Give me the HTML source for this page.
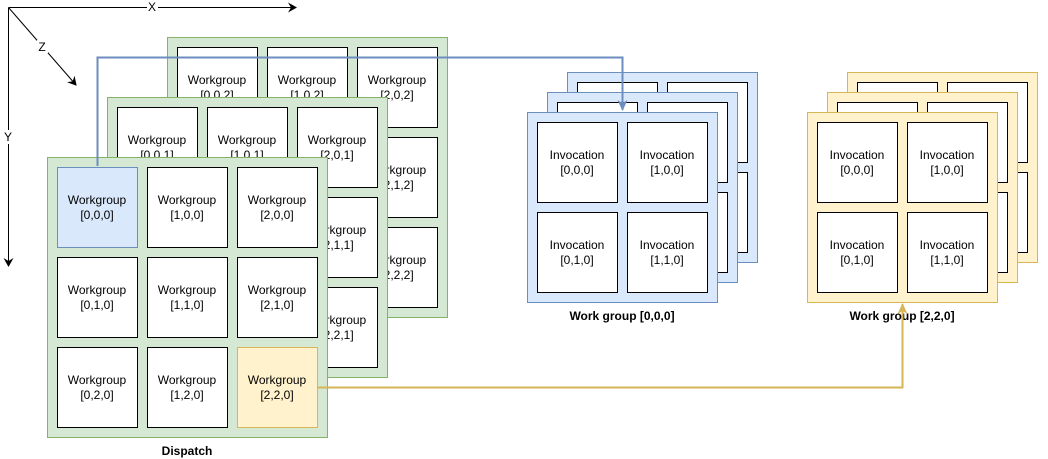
<!DOCTYPE html>
<html><head><meta charset="utf-8"><style>
html,body{margin:0;padding:0;background:#fff;}
svg{display:block;}
text{font-family:"Liberation Sans",Arial,sans-serif;font-size:12px;fill:#000;text-anchor:middle;}
.b{font-weight:bold;}
.c{fill:#fff;stroke:#000;stroke-width:1;}
.g{fill:#d5e8d4;stroke:#82b366;}
.bl{fill:#dae8fc;stroke:#6c8ebf;}
.y{fill:#fff2cc;stroke:#d6b656;}
</style></head><body>
<svg width="1048" height="459" viewBox="0 0 1048 459" xmlns="http://www.w3.org/2000/svg">
<defs>
<marker id="ak" markerWidth="10" markerHeight="10" refX="8" refY="5" orient="auto" markerUnits="userSpaceOnUse"><path d="M0,0 L9,5 L0,10 L3,5 z" fill="#000"/></marker>
<marker id="ab" markerWidth="12" markerHeight="12" refX="10" refY="6" orient="auto" markerUnits="userSpaceOnUse"><path d="M0,1 L11,6 L0,11 L3,6 z" fill="#6c8ebf"/></marker>
<marker id="ay" markerWidth="12" markerHeight="12" refX="10" refY="6" orient="auto" markerUnits="userSpaceOnUse"><path d="M0,1 L11,6 L0,11 L3,6 z" fill="#d6b656"/></marker>
</defs>
<!-- axes -->
<line x1="8.5" y1="7.5" x2="296" y2="7.5" stroke="#000" marker-end="url(#ak)"/>
<rect x="147" y="1" width="11" height="12" fill="#fff"/><text x="152" y="11">X</text>
<line x1="8.5" y1="7.5" x2="8.5" y2="266" stroke="#000" marker-end="url(#ak)"/>
<rect x="2" y="130" width="12" height="14" fill="#fff"/><text x="8" y="141">Y</text>
<line x1="8.5" y1="7.5" x2="76" y2="85" stroke="#000" marker-end="url(#ak)"/>
<rect x="37" y="40" width="11" height="13" fill="#fff"/><text x="42" y="51">Z</text>

<!-- back layer z=2 -->
<rect class="g" x="167.5" y="37.5" width="280" height="280"/>
<rect class="c" x="177.5" y="47.5" width="80" height="80"/><text x="217" y="84">Workgroup</text><text x="217" y="99">[0,0,2]</text>
<rect class="c" x="267.5" y="47.5" width="80" height="80"/><text x="307" y="84">Workgroup</text><text x="307" y="99">[1,0,2]</text>
<rect class="c" x="357.5" y="47.5" width="80" height="80"/><text x="397" y="84">Workgroup</text><text x="397" y="99">[2,0,2]</text>
<rect class="c" x="357.5" y="137.5" width="80" height="80"/><text x="397" y="174">Workgroup</text><text x="397" y="189">[2,1,2]</text>
<rect class="c" x="357.5" y="227.5" width="80" height="80"/><text x="397" y="264">Workgroup</text><text x="397" y="279">[2,2,2]</text>

<!-- middle layer z=1 -->
<rect class="g" x="107.5" y="97.5" width="280" height="280"/>
<rect class="c" x="117.5" y="107.5" width="80" height="80"/><text x="157" y="144">Workgroup</text><text x="157" y="159">[0,0,1]</text>
<rect class="c" x="207.5" y="107.5" width="80" height="80"/><text x="247" y="144">Workgroup</text><text x="247" y="159">[1,0,1]</text>
<rect class="c" x="297.5" y="107.5" width="80" height="80"/><text x="337" y="144">Workgroup</text><text x="337" y="159">[2,0,1]</text>
<rect class="c" x="297.5" y="197.5" width="80" height="80"/><text x="337" y="234">Workgroup</text><text x="337" y="249">[2,1,1]</text>
<rect class="c" x="297.5" y="287.5" width="80" height="80"/><text x="337" y="324">Workgroup</text><text x="337" y="339">[2,2,1]</text>

<!-- front layer -->
<rect class="g" x="47.5" y="157.5" width="280" height="280"/>
<rect class="bl" x="57.5" y="167.5" width="80" height="80"/><text x="97" y="204">Workgroup</text><text x="97" y="219">[0,0,0]</text>
<rect class="c" x="147.5" y="167.5" width="80" height="80"/><text x="187" y="204">Workgroup</text><text x="187" y="219">[1,0,0]</text>
<rect class="c" x="237.5" y="167.5" width="80" height="80"/><text x="277" y="204">Workgroup</text><text x="277" y="219">[2,0,0]</text>
<rect class="c" x="57.5" y="257.5" width="80" height="80"/><text x="97" y="294">Workgroup</text><text x="97" y="309">[0,1,0]</text>
<rect class="c" x="147.5" y="257.5" width="80" height="80"/><text x="187" y="294">Workgroup</text><text x="187" y="309">[1,1,0]</text>
<rect class="c" x="237.5" y="257.5" width="80" height="80"/><text x="277" y="294">Workgroup</text><text x="277" y="309">[2,1,0]</text>
<rect class="c" x="57.5" y="347.5" width="80" height="80"/><text x="97" y="384">Workgroup</text><text x="97" y="399">[0,2,0]</text>
<rect class="c" x="147.5" y="347.5" width="80" height="80"/><text x="187" y="384">Workgroup</text><text x="187" y="399">[1,2,0]</text>
<rect class="y" x="237.5" y="347.5" width="80" height="80"/><text x="277" y="384">Workgroup</text><text x="277" y="399">[2,2,0]</text>
<text class="b" x="187" y="455">Dispatch</text>

<!-- blue work group -->
<rect class="bl" x="567.5" y="72.5" width="190" height="190"/>
<rect class="c" x="577.5" y="82.5" width="80" height="80"/><rect class="c" x="667.5" y="82.5" width="80" height="80"/>
<rect class="c" x="577.5" y="172.5" width="80" height="80"/><rect class="c" x="667.5" y="172.5" width="80" height="80"/>
<rect class="bl" x="547.5" y="92.5" width="190" height="190"/>
<rect class="c" x="557.5" y="102.5" width="80" height="80"/><rect class="c" x="647.5" y="102.5" width="80" height="80"/>
<rect class="c" x="557.5" y="192.5" width="80" height="80"/><rect class="c" x="647.5" y="192.5" width="80" height="80"/>
<rect class="bl" x="527.5" y="112.5" width="190" height="190"/>
<rect class="c" x="537.5" y="122.5" width="80" height="80"/><text x="577" y="159">Invocation</text><text x="577" y="174">[0,0,0]</text>
<rect class="c" x="627.5" y="122.5" width="80" height="80"/><text x="667" y="159">Invocation</text><text x="667" y="174">[1,0,0]</text>
<rect class="c" x="537.5" y="212.5" width="80" height="80"/><text x="577" y="249">Invocation</text><text x="577" y="264">[0,1,0]</text>
<rect class="c" x="627.5" y="212.5" width="80" height="80"/><text x="667" y="249">Invocation</text><text x="667" y="264">[1,1,0]</text>
<text class="b" x="622" y="320">Work group [0,0,0]</text>

<!-- blue connector (on top) -->
<path d="M97.5,166 L97.5,57.5 L622.5,57.5 L622.5,110" fill="none" stroke="#6c8ebf" stroke-width="2" marker-end="url(#ab)"/>

<!-- yellow work group -->
<rect class="y" x="847.5" y="72.5" width="190" height="190"/>
<rect class="c" x="857.5" y="82.5" width="80" height="80"/><rect class="c" x="947.5" y="82.5" width="80" height="80"/>
<rect class="c" x="857.5" y="172.5" width="80" height="80"/><rect class="c" x="947.5" y="172.5" width="80" height="80"/>
<rect class="y" x="827.5" y="92.5" width="190" height="190"/>
<rect class="c" x="837.5" y="102.5" width="80" height="80"/><rect class="c" x="927.5" y="102.5" width="80" height="80"/>
<rect class="c" x="837.5" y="192.5" width="80" height="80"/><rect class="c" x="927.5" y="192.5" width="80" height="80"/>
<rect class="y" x="807.5" y="112.5" width="190" height="190"/>
<rect class="c" x="817.5" y="122.5" width="80" height="80"/><text x="857" y="159">Invocation</text><text x="857" y="174">[0,0,0]</text>
<rect class="c" x="907.5" y="122.5" width="80" height="80"/><text x="947" y="159">Invocation</text><text x="947" y="174">[1,0,0]</text>
<rect class="c" x="817.5" y="212.5" width="80" height="80"/><text x="857" y="249">Invocation</text><text x="857" y="264">[0,1,0]</text>
<rect class="c" x="907.5" y="212.5" width="80" height="80"/><text x="947" y="249">Invocation</text><text x="947" y="264">[1,1,0]</text>
<text class="b" x="902" y="320">Work group [2,2,0]</text>

<!-- yellow connector -->
<path d="M318,387.5 L902.5,387.5 L902.5,304" fill="none" stroke="#d6b656" stroke-width="2" marker-end="url(#ay)"/>
</svg>
</body></html>
